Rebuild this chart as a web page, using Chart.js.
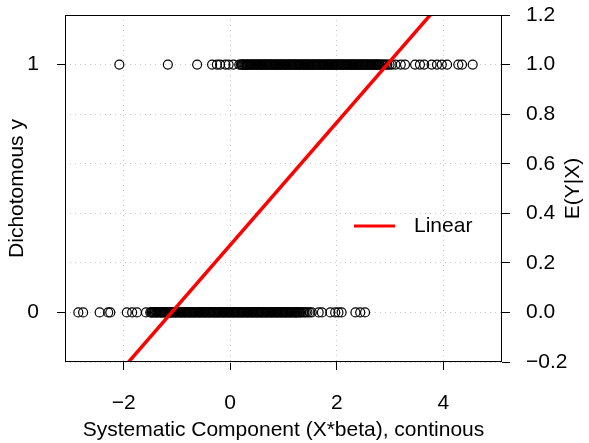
<!DOCTYPE html>
<html>
<head>
<meta charset="utf-8">
<script src="https://cdn.jsdelivr.net/npm/chart.js@4.4.1/dist/chart.umd.min.js"></script>
<style>
  body { margin: 0; background: #fff; }
  canvas { display: block; }
</style>
</head>
<body>
<canvas id="chart" width="589" height="443"></canvas>
<script>
// x values of the observations with y = 1
const xOnes = [
    -2.08, -1.17, -0.62, -0.34, -0.25, -0.19, -0.09, -0.03, 0.06, 0.17,
    0.20, 0.22, 0.23, 0.25, 0.27, 0.29, 0.31, 0.32, 0.34, 0.36,
    0.38, 0.40, 0.41, 0.43, 0.45, 0.47, 0.49, 0.50, 0.52, 0.54,
    0.56, 0.58, 0.59, 0.61, 0.63, 0.65, 0.67, 0.68, 0.70, 0.72,
    0.74, 0.76, 0.77, 0.79, 0.81, 0.83, 0.85, 0.86, 0.88, 0.90,
    0.92, 0.94, 0.95, 0.97, 0.99, 1.01, 1.03, 1.04, 1.06, 1.08,
    1.10, 1.12, 1.13, 1.15, 1.17, 1.19, 1.21, 1.22, 1.24, 1.26,
    1.28, 1.30, 1.31, 1.33, 1.35, 1.37, 1.39, 1.40, 1.42, 1.44,
    1.46, 1.48, 1.49, 1.51, 1.53, 1.55, 1.57, 1.58, 1.60, 1.62,
    1.64, 1.66, 1.67, 1.69, 1.71, 1.73, 1.75, 1.76, 1.78, 1.80,
    1.82, 1.84, 1.85, 1.87, 1.89, 1.91, 1.93, 1.94, 1.96, 1.98,
    2.00, 2.02, 2.03, 2.05, 2.07, 2.09, 2.11, 2.12, 2.14, 2.16,
    2.18, 2.20, 2.21, 2.23, 2.25, 2.27, 2.29, 2.30, 2.32, 2.34,
    2.36, 2.38, 2.39, 2.41, 2.43, 2.45, 2.47, 2.48, 2.50, 2.52,
    2.54, 2.56, 2.57, 2.59, 2.61, 2.63, 2.65, 2.66, 2.68, 2.70,
    2.72, 2.74, 2.75, 2.77, 2.79, 2.81, 2.84, 2.86, 2.89, 2.92,
    2.95, 2.99, 3.03,
    3.10, 3.20, 3.28, 3.47, 3.56, 3.64, 3.78, 3.88, 3.97, 4.07, 4.28, 4.35, 4.55
];

// x values of the observations with y = 0
const xZeros = [
    -2.85, -2.76, -2.45, -2.29, -2.25, -1.94, -1.84, -1.75, -1.58,
    -1.50, -1.48, -1.47, -1.45, -1.43, -1.41, -1.39, -1.38, -1.36, -1.34,
    -1.32, -1.30, -1.29, -1.27, -1.25, -1.23, -1.21, -1.20, -1.18, -1.16,
    -1.14, -1.12, -1.11, -1.09, -1.07, -1.05, -1.03, -1.02, -1.00, -0.98,
    -0.96, -0.94, -0.93, -0.91, -0.89, -0.87, -0.85, -0.84, -0.82, -0.80,
    -0.78, -0.76, -0.75, -0.73, -0.71, -0.69, -0.67, -0.66, -0.64, -0.62,
    -0.60, -0.58, -0.57, -0.55, -0.53, -0.51, -0.49, -0.48, -0.46, -0.44,
    -0.42, -0.40, -0.39, -0.37, -0.35, -0.33, -0.31, -0.30, -0.28, -0.26,
    -0.24, -0.22, -0.21, -0.19, -0.17, -0.15, -0.13, -0.12, -0.10, -0.08,
    -0.06, -0.04, -0.03, -0.01, 0.01, 0.03, 0.05, 0.06, 0.08, 0.10,
    0.12, 0.14, 0.15, 0.17, 0.19, 0.21, 0.23, 0.24, 0.26, 0.28,
    0.30, 0.32, 0.33, 0.35, 0.37, 0.39, 0.41, 0.42, 0.44, 0.46,
    0.48, 0.50, 0.51, 0.53, 0.55, 0.57, 0.59, 0.60, 0.62, 0.64,
    0.66, 0.68, 0.69, 0.71, 0.73, 0.75, 0.77, 0.78, 0.80, 0.82,
    0.84, 0.86, 0.87, 0.89, 0.91, 0.93, 0.95, 0.96, 0.98, 1.00,
    1.02, 1.04, 1.05, 1.07, 1.09, 1.11, 1.13, 1.14, 1.16, 1.18,
    1.20, 1.22, 1.23, 1.25, 1.27, 1.29, 1.31, 1.33, 1.36, 1.39,
    1.42, 1.45, 1.49, 1.53,
    1.66, 1.72, 1.88, 1.97, 2.03, 2.09, 2.35, 2.44, 2.53
];

// linear fit, end points
const lineX = [-3.1, 5.1];
const lineY = [-0.495, 1.533];

// axis ticks
const xTicks = [-2, 0, 2, 4];
const yLeftTicks = [0, 1];
const yRightTicks = [-0.2, 0, 0.2, 0.4, 0.6, 0.8, 1.0, 1.2];

const FONT = 'Liberation Sans, Arial, sans-serif';
const FONT_SIZE = 21;
const gridColor = '#c8c8c8';

function fmt(v, digits) {
    const s = Math.abs(v).toFixed(digits);
    return v < -1e-9 ? '\u2212' + s : s;
}

// drop the extra room Chart.js keeps for labels at the axis ends
function noEndPadding(s) {
    s.paddingTop = 0;
    s.paddingBottom = 0;
    s.paddingLeft = 0;
    s.paddingRight = 0;
}

// box, legend and right-hand title
const decorations = {
    id: 'decorations',
    afterDraw(chart) {
        const ctx = chart.ctx;
        const a = chart.chartArea;
        ctx.save();
        ctx.strokeStyle = '#000';
        ctx.lineWidth = 1;
        ctx.strokeRect(Math.round(a.left) + 0.5, Math.round(a.top) + 0.5,
            Math.round(a.right - a.left) - 1, Math.round(a.bottom - a.top) - 1);

        // legend
        const ly = a.top + 211;
        ctx.strokeStyle = '#ff0000';
        ctx.lineWidth = 3;
        ctx.beginPath();
        ctx.moveTo(a.left + 289, ly);
        ctx.lineTo(a.left + 330, ly);
        ctx.stroke();
        ctx.fillStyle = '#000';
        ctx.font = FONT_SIZE + 'px ' + FONT;
        ctx.textBaseline = 'middle';
        ctx.textAlign = 'left';
        ctx.fillText('Linear', a.left + 349, ly);

        // right axis title, reading bottom to top
        ctx.translate(573, (a.top + a.bottom) / 2);
        ctx.rotate(-Math.PI / 2);
        ctx.textAlign = 'center';
        ctx.fillText('E(Y|X)', 0, 0);
        ctx.restore();
    }
};

new Chart(document.getElementById('chart'), {
    type: 'scatter',
    data: {
        datasets: [
            {
                label: 'Linear',
                type: 'line',
                data: lineX.map((x, i) => ({ x: x, y: lineY[i] })),
                borderColor: '#ff0000',
                borderWidth: 3.5,
                pointRadius: 0,
                fill: false,
                order: 0
            },
            {
                label: 'y = 1',
                data: xOnes.map(x => ({ x: x, y: 1 })),
                pointStyle: 'circle',
                pointRadius: 4.5,
                borderWidth: 1.2,
                borderColor: '#000',
                backgroundColor: 'rgba(0,0,0,0)',
                order: 1
            },
            {
                label: 'y = 0',
                data: xZeros.map(x => ({ x: x, y: 0 })),
                pointStyle: 'circle',
                pointRadius: 4.5,
                borderWidth: 1.2,
                borderColor: '#000',
                backgroundColor: 'rgba(0,0,0,0)',
                order: 1
            }
        ]
    },
    options: {
        responsive: false,
        animation: false,
        layout: { padding: { top: 15, left: 0, right: 0, bottom: 0 } },
        plugins: {
            legend: { display: false },
            tooltip: { enabled: false }
        },
        scales: {
            x: {
                type: 'linear',
                position: 'bottom',
                min: -3.1,
                max: 5.1,
                afterBuildTicks: s => { s.ticks = xTicks.map(v => ({ value: v })); },
                afterFit: s => { s.height = 81; noEndPadding(s); },
                border: { display: false, dash: [1, 4] },
                grid: {
                    color: gridColor,
                    drawTicks: true,
                    tickLength: 8,
                    tickColor: '#000',
                    tickBorderDash: [],
                    tickWidth: 1
                },
                ticks: {
                    color: '#000',
                    font: { family: FONT, size: FONT_SIZE },
                    padding: 21,
                    maxRotation: 0,
                    callback: v => fmt(v, 0)
                },
                title: {
                    display: true,
                    text: 'Systematic Component (X*beta), continous',
                    color: '#000',
                    font: { family: FONT, size: FONT_SIZE },
                    padding: { top: 0, bottom: 0 }
                }
            },
            y: {
                type: 'linear',
                position: 'left',
                min: -0.2,
                max: 1.2,
                afterBuildTicks: s => { s.ticks = yLeftTicks.map(v => ({ value: v })); },
                afterFit: s => { s.width = 65; noEndPadding(s); },
                border: { display: false },
                grid: {
                    drawOnChartArea: false,
                    drawTicks: true,
                    tickLength: 8,
                    tickColor: '#000',
                    tickBorderDash: [],
                    tickWidth: 1
                },
                ticks: {
                    color: '#000',
                    font: { family: FONT, size: FONT_SIZE },
                    padding: 18,
                    callback: v => fmt(v, 0)
                },
                title: {
                    display: true,
                    text: 'Dichotomous y',
                    color: '#000',
                    font: { family: FONT, size: FONT_SIZE },
                    padding: { top: 5, bottom: 0 }
                }
            },
            y2: {
                type: 'linear',
                position: 'right',
                min: -0.2,
                max: 1.2,
                afterBuildTicks: s => { s.ticks = yRightTicks.map(v => ({ value: v })); },
                afterFit: s => { s.width = 87; noEndPadding(s); },
                border: { display: false, dash: [1, 4] },
                grid: {
                    color: gridColor,
                    drawTicks: true,
                    tickLength: 8,
                    tickColor: '#000',
                    tickBorderDash: [],
                    tickWidth: 1
                },
                ticks: {
                    color: '#000',
                    font: { family: FONT, size: FONT_SIZE },
                    padding: 16,
                    callback: v => fmt(v, 1)
                }
            }
        }
    },
    plugins: [decorations]
});
</script>
</body>
</html>
